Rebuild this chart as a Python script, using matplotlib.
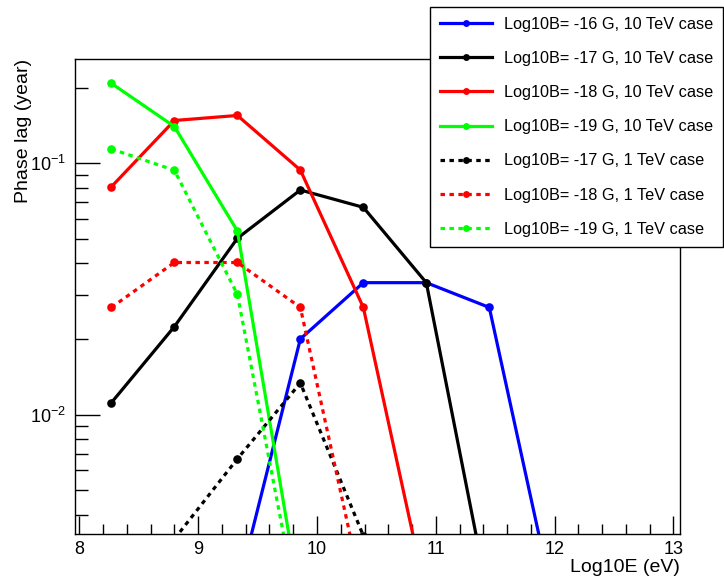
import numpy as np
import matplotlib
matplotlib.use("Agg")
import matplotlib.pyplot as plt
from matplotlib.ticker import FixedLocator, MultipleLocator, NullFormatter, FuncFormatter

plt.rcParams['font.family'] = ['Liberation Sans', 'DejaVu Sans']
plt.rcParams['mathtext.fontset'] = 'custom'
plt.rcParams['mathtext.rm'] = 'Liberation Sans'

# ---- data ----
log10E = [8.27, 8.80, 9.33, 9.86, 10.39, 10.92, 11.45, 11.98]

b16_10TeV_x = log10E[2:8]
b16_10TeV_y = [0.0020, 0.0200, 0.0335, 0.0335, 0.0267, 0.0019]

b17_10TeV_x = log10E[0:7]
b17_10TeV_y = [0.01116, 0.0224, 0.0503, 0.0783, 0.0668, 0.0335, 0.0018]

b18_10TeV_x = log10E[0:6]
b18_10TeV_y = [0.0807, 0.148, 0.155, 0.094, 0.0267, 0.0019]

b19_10TeV_x = log10E[0:4]
b19_10TeV_y = [0.208, 0.140, 0.0538, 0.0018]

b17_1TeV_x = log10E[1:5]
b17_1TeV_y = [0.0032, 0.00667, 0.01336, 0.0033]

b18_1TeV_x = log10E[0:5]
b18_1TeV_y = [0.0267, 0.0403, 0.0403, 0.0267, 0.0019]

b19_1TeV_x = log10E[0:4]
b19_1TeV_y = [0.114, 0.0938, 0.0301, 0.0015]

labels = [
    "Log10B= -16 G, 10 TeV case",
    "Log10B= -17 G, 10 TeV case",
    "Log10B= -18 G, 10 TeV case",
    "Log10B= -19 G, 10 TeV case",
    "Log10B= -17 G, 1 TeV case",
    "Log10B= -18 G, 1 TeV case",
    "Log10B= -19 G, 1 TeV case",
]

series = [
    (b16_10TeV_x, b16_10TeV_y, '#0000ff', '-'),
    (b17_10TeV_x, b17_10TeV_y, '#000000', '-'),
    (b18_10TeV_x, b18_10TeV_y, '#ff0000', '-'),
    (b19_10TeV_x, b19_10TeV_y, '#00ff00', '-'),
    (b17_1TeV_x, b17_1TeV_y, '#000000', ':'),
    (b18_1TeV_x, b18_1TeV_y, '#ff0000', ':'),
    (b19_1TeV_x, b19_1TeV_y, '#00ff00', ':'),
]

fig = plt.figure(figsize=(7.24, 5.79), dpi=100)
ax = fig.add_axes([74.7 / 724, 1 - 534 / 579, (680 - 74.7) / 724, (534 - 59) / 579])

handles = []
for (x, y, c, ls), lab in zip(series, labels):
    style = '-' if ls == '-' else (0, (1.4, 1.4))
    h, = ax.plot(x, y, color=c, linestyle=style, linewidth=2.3, marker='o',
                 markersize=6.2, markeredgewidth=0, label=lab)
    handles.append(h)

ax.set_yscale('log')
ax.set_xlim(7.961, 13.055)
ax.set_ylim(0.00335, 0.26)

ax.xaxis.set_major_locator(MultipleLocator(1))
ax.xaxis.set_minor_locator(MultipleLocator(0.2))
ax.yaxis.set_major_locator(FixedLocator([0.01, 0.1]))
minors = [m * 10.0 ** e for e in (-3, -2, -1) for m in range(2, 10)]
ax.yaxis.set_minor_locator(FixedLocator(minors))
ax.yaxis.set_minor_formatter(NullFormatter())
ax.yaxis.set_major_formatter(FuncFormatter(
    lambda v, p: r'$\mathregular{10^{%d}}$' % int(round(np.log10(v)))))
ax.xaxis.set_major_formatter(FuncFormatter(lambda v, p: '%d' % int(round(v))))

ax.tick_params(axis='both', which='both', direction='in', top=False, right=False,
               labelsize=13, width=1, colors='black')
ax.tick_params(axis='x', which='major', length=13, pad=5)
ax.tick_params(axis='x', which='minor', length=7)
ax.tick_params(axis='y', which='major', length=18, pad=6)
ax.tick_params(axis='y', which='minor', length=9)
for s in ax.spines.values():
    s.set_linewidth(1)

ax.set_xlabel('Log10E (eV)', loc='right', fontsize=14, labelpad=1)
ax.set_ylabel('Phase lag (year)', loc='top', fontsize=14, labelpad=-1)

leg = fig.legend(handles=handles, labels=labels, loc='upper left',
                 bbox_to_anchor=(430 / 724, 1 - 7 / 579), fontsize=11.7,
                 frameon=True, fancybox=False, edgecolor='black', framealpha=1,
                 borderpad=0.6, labelspacing=1.18, handlelength=3.2,
                 handletextpad=0.75, borderaxespad=0, numpoints=1, markerscale=0.8)
leg.get_frame().set_linewidth(1)

fig.savefig('out.png', dpi=100)
